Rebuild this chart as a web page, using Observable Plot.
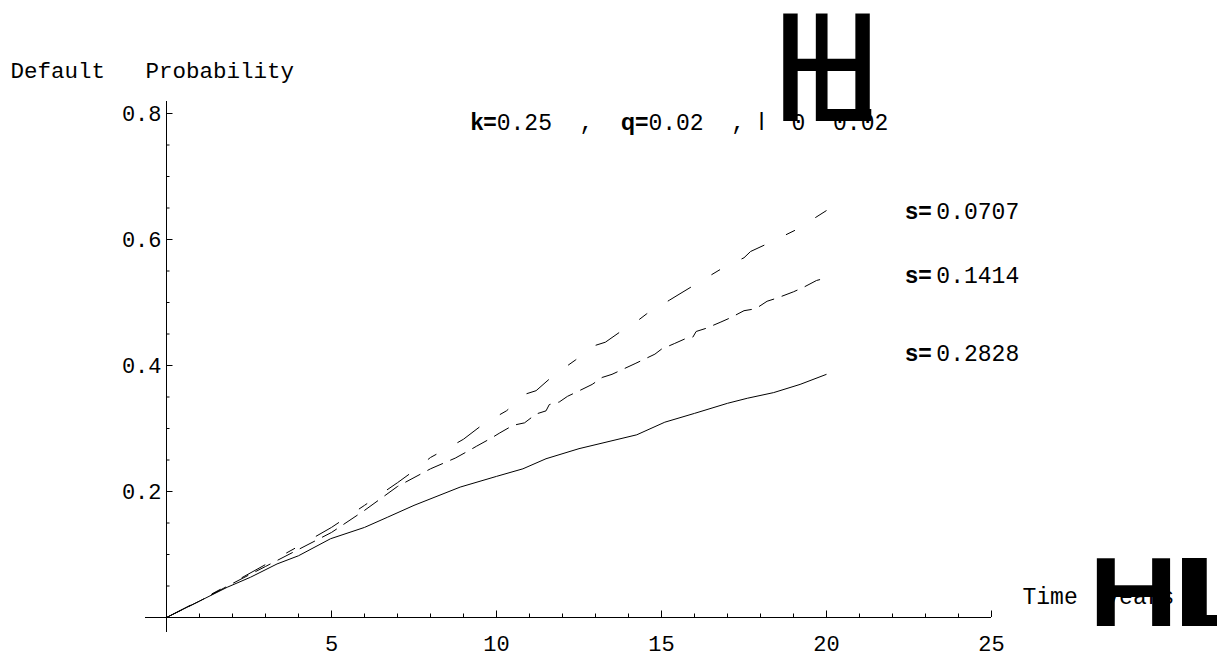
<!DOCTYPE html>
<html><head><meta charset="utf-8">
<script src="https://cdn.jsdelivr.net/npm/d3@7"></script>
<script src="https://cdn.jsdelivr.net/npm/@observablehq/plot@0.6"></script>
<style>
html,body{margin:0;padding:0;background:#fff;}
#chart svg{display:block;}
#chart text, #chart tspan{white-space:pre;}
</style></head><body><div id="chart"></div>
<script>
// ---- data ----
const seriesNames = ["s=0.0707", "s=0.1414", "s=0.2828"];
const seriesValues = ["0.0707", "0.1414", "0.2828"];
const seriesLabelY = [0.644, 0.543, 0.419];

const t07 = [0, 1, 2, 3, 4, 5, 6, 7, 7.5, 8, 8.7, 9, 9.6, 10.3, 10.9, 11.2, 11.7, 12.4, 13, 13.3, 13.9, 14.2, 14.55, 15.25, 15.5, 16.1, 16.8, 17.5, 17.7, 18.4, 19.1, 20];
const p07 = [0, 0.027, 0.055, 0.084, 0.113, 0.143, 0.178, 0.214, 0.233, 0.254, 0.274, 0.283, 0.307, 0.328, 0.355, 0.36, 0.383, 0.409, 0.432, 0.437, 0.459, 0.468, 0.482, 0.504, 0.512, 0.531, 0.553, 0.571, 0.581, 0.598, 0.616, 0.646];

const t14 = [0, 1, 2, 3, 4, 5, 6, 7, 8, 8.75, 9.2, 9.4, 9.85, 10.1, 10.5, 10.85, 11.2, 11.5, 11.6, 11.9, 12.15, 12.55, 12.9, 13.2, 13.5, 14.2, 14.8, 15, 15.4, 15.7, 15.95, 16.05, 16.35, 16.8, 17.1, 17.5, 17.85, 18.2, 18.5, 19, 19.3, 19.7, 20];
const p14 = [0, 0.026, 0.054, 0.081, 0.108, 0.135, 0.17, 0.208, 0.236, 0.253, 0.266, 0.272, 0.285, 0.293, 0.305, 0.309, 0.323, 0.328, 0.338, 0.342, 0.351, 0.361, 0.37, 0.381, 0.386, 0.403, 0.418, 0.426, 0.435, 0.442, 0.445, 0.454, 0.459, 0.469, 0.476, 0.487, 0.49, 0.502, 0.507, 0.517, 0.524, 0.535, 0.539];

const t28 = [0, 1, 1.84, 2.55, 3.35, 4, 4.97, 6, 6.69, 7.5, 8.9, 10, 10.8, 11.5, 12.5, 14.25, 15.1, 16, 17, 17.6, 18.4, 19.2, 20];
const p28 = [0, 0.026, 0.048, 0.064, 0.085, 0.098, 0.125, 0.143, 0.159, 0.178, 0.207, 0.224, 0.236, 0.252, 0.268, 0.29, 0.31, 0.324, 0.34, 0.348, 0.357, 0.37, 0.386];

const xMajor = [5, 10, 15, 20, 25];
const xMinor = [1, 2, 3, 4, 6, 7, 8, 9, 11, 12, 13, 14, 16, 17, 18, 19, 21, 22, 23, 24];
const yMajor = [0.2, 0.4, 0.6, 0.8];
const yMinor = [0.05, 0.1, 0.15, 0.25, 0.3, 0.35, 0.45, 0.5, 0.55, 0.65, 0.7, 0.75];

const yLabel = "Default   Probability";
const xLabel = "Time  years";
const titleText = "k=0.25 , q=0.02 , l 0 0.02";
const titleParts = [["k=", "b"], ["0.25", "m"], ["  ,  ", "m"], ["q=", "b"], ["0.02", "m"], ["  , ", "m"], ["l", "s"], ["  0  0.02", "m"]];

// ---- layout / style ----
const W = 1217, H = 657;
const M = {top: 113, right: 226, bottom: 40, left: 166};
const frameW = W - M.left - M.right;
const frameH = H - M.top - M.bottom;
const mono = "'Liberation Mono', 'DejaVu Sans Mono', monospace";
const sans = "'Liberation Sans', Arial, sans-serif";
const dashes = ["27,24,10,24", "17,8", null];

const lines = [[t07, p07], [t14, p14], [t28, p28]].map(([t, p], i) =>
  t.map((x, j) => ({t: x, p: p[j], s: seriesNames[i]})));

const labels = seriesNames.map((n, i) => ({name: n, value: seriesValues[i], y: seriesLabelY[i]}));

const plot = Plot.plot({
  width: W, height: H,
  marginTop: M.top, marginRight: M.right, marginBottom: M.bottom, marginLeft: M.left,
  x: {domain: [0, 25], axis: null},
  y: {domain: [0, 0.8], axis: null},
  style: {fontFamily: mono, fontSize: "22px", background: "white", color: "black", overflow: "visible"},
  marks: [
    Plot.ruleY([0], {stroke: "black", strokeWidth: 1, insetLeft: -21}),
    Plot.ruleX([0], {stroke: "black", strokeWidth: 1, insetBottom: -15, insetTop: -12}),
    Plot.tickX(xMinor, {x: d => d, stroke: "black", insetTop: frameH - 3.5}),
    Plot.tickX(xMajor, {x: d => d, stroke: "black", insetTop: frameH - 6.5}),
    Plot.tickY(yMinor, {y: d => d, stroke: "black", insetRight: frameW - 3.5}),
    Plot.tickY(yMajor, {y: d => d, stroke: "black", insetRight: frameW - 6.5}),
    ...lines.map((data, i) => Plot.line(data, {x: "t", y: "p", stroke: "black", strokeWidth: 1,
      strokeDasharray: dashes[i], strokeLinecap: "butt", curve: "linear"})),
    Plot.text(xMajor, {x: d => d, frameAnchor: "bottom", dy: 33, text: d => String(d), fontSize: 22}),
    Plot.text(yMajor, {y: d => d, frameAnchor: "left", dx: -5, textAnchor: "end", text: d => d.toFixed(1), fontSize: 22}),
    // series labels: bold sans "s=" + mono value
    Plot.text(labels, {x: () => 22.39, y: "y", text: () => "s=", textAnchor: "start", fontFamily: sans, fontWeight: "bold", fontSize: 23}),
    Plot.text(labels, {x: () => 22.39, y: "y", text: "value", textAnchor: "start", dx: 31, fontSize: 23}),
    // axis labels
    Plot.text([yLabel], {frameAnchor: "top-left", dx: -156, dy: -51, textAnchor: "start", fontSize: 22.5}),
    Plot.text([xLabel], {frameAnchor: "bottom-right", dx: 31, dy: -14, textAnchor: "start", fontSize: 23}),
    // title
    Plot.text([titleText], {frameAnchor: "top-left", dx: 304, dy: 0, textAnchor: "start", fontSize: 23}),
    // big bracket glyphs as rendered in the reference
    Plot.text(["H"], {frameAnchor: "top-left", dx: 604, dy: 7, lineAnchor: "bottom", textAnchor: "start", fontFamily: sans, fontSize: 155}),
    Plot.text(["L"], {frameAnchor: "top-left", dx: 639, dy: 7, lineAnchor: "bottom", textAnchor: "start", fontFamily: sans, fontSize: 155}),
    Plot.text(["H"], {frameAnchor: "bottom-right", dx: 97, dy: 8, lineAnchor: "bottom", textAnchor: "start", fontFamily: sans, fontWeight: "bold", fontSize: 98}),
    Plot.text(["L"], {frameAnchor: "bottom-right", dx: 179, dy: 8, lineAnchor: "bottom", textAnchor: "start", fontFamily: sans, fontWeight: "bold", fontSize: 98})
  ]
});

// rich text for the title (mixed fonts) and glyph squeezing
const texts = Array.from(plot.querySelectorAll("text"));
const tt = texts.find(t => t.textContent === titleText);
if (tt) {
  const sel = d3.select(tt);
  sel.text(null);
  for (const [s, f] of titleParts) {
    const sp = sel.append("tspan").text(s);
    if (f === "b") sp.attr("font-family", sans).attr("font-weight", "bold");
    else if (f === "s") sp.attr("font-family", sans);
    else sp.attr("font-family", mono);
  }
}
const Hs = texts.filter(t => t.textContent === "H");
if (Hs[1]) { Hs[1].setAttribute("textLength", 90); Hs[1].setAttribute("lengthAdjust", "spacingAndGlyphs"); }
const Ls = texts.filter(t => t.textContent === "L");
if (Ls[0]) { Ls[0].setAttribute("textLength", 70); Ls[0].setAttribute("lengthAdjust", "spacingAndGlyphs"); }
if (Ls[1]) { Ls[1].setAttribute("textLength", 105); Ls[1].setAttribute("lengthAdjust", "spacingAndGlyphs"); }

document.getElementById("chart").appendChild(plot);
</script>
</body></html>
